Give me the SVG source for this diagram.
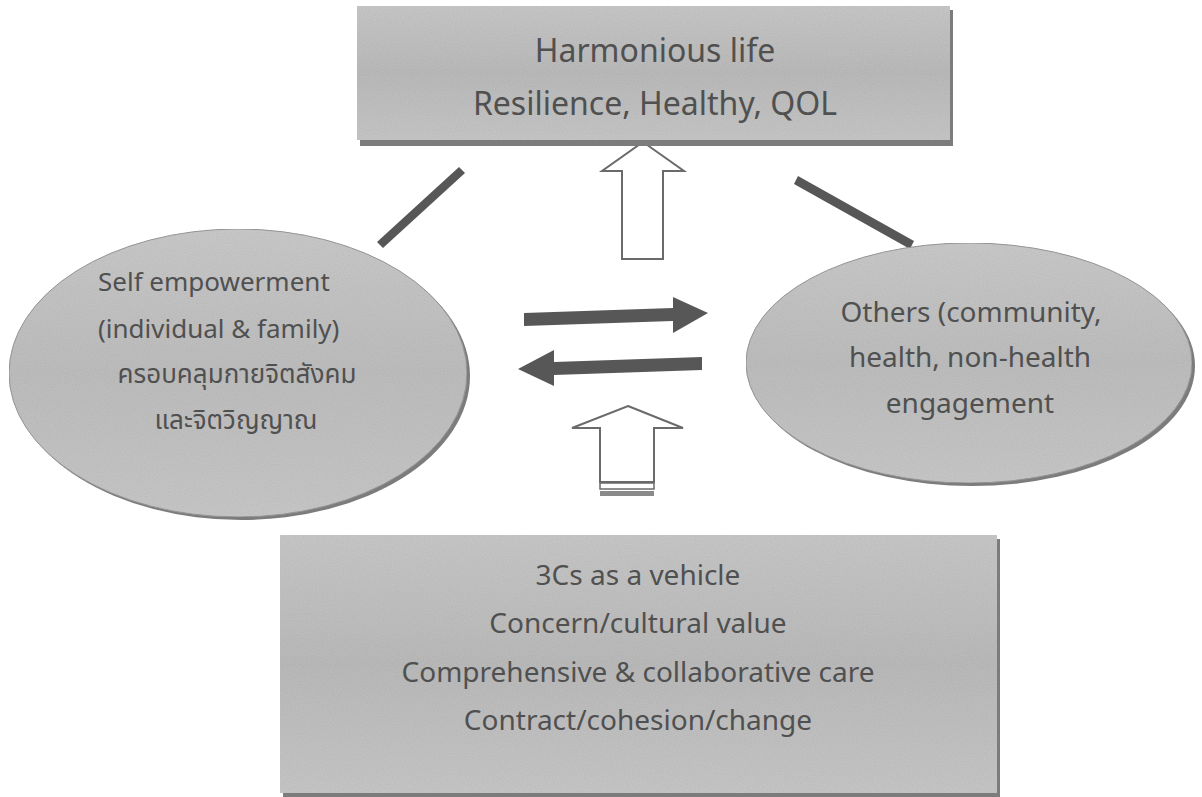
<svg xmlns="http://www.w3.org/2000/svg" width="1202" height="797" viewBox="0 0 1202 797">
<style>
.t{font-family:"Noto Sans","Noto Sans Thai",Loma,Garuda,"DejaVu Sans",sans-serif;fill:#505050}
.m{text-anchor:middle}
.ft{font-size:32px}
.fl{font-size:26px}
.fr{font-size:28px}
.fb{font-size:28px}
.box{fill:url(#g1);filter:url(#grain)}
.sh{fill:#7c7c7c}
.ell{fill:url(#g2);stroke:#9a9a9a;stroke-width:1;filter:url(#grain)}
.bar{fill:#575757}
.hollow{fill:#ffffff;stroke:#6a6a6a;stroke-width:2}
</style>
<defs>
<linearGradient id="g1" x1="0" y1="0" x2="0" y2="1">
<stop offset="0" stop-color="#cbcbcb"/><stop offset="0.5" stop-color="#bebebe"/><stop offset="1" stop-color="#cacaca"/>
</linearGradient>
<linearGradient id="g2" x1="0" y1="0" x2="0" y2="1">
<stop offset="0" stop-color="#cdcdcd"/><stop offset="0.5" stop-color="#c1c1c1"/><stop offset="1" stop-color="#cbcbcb"/>
</linearGradient>
<filter id="grain" x="0" y="0" width="100%" height="100%">
<feTurbulence type="fractalNoise" baseFrequency="0.9" numOctaves="1" seed="3" result="n"/>
<feColorMatrix in="n" type="matrix" values="0 0 0 0 0  0 0 0 0 0  0 0 0 0 0  0 0 0 0.18 0" result="d"/>
<feComposite in="d" in2="SourceGraphic" operator="in" result="dm"/>
<feMerge><feMergeNode in="SourceGraphic"/><feMergeNode in="dm"/></feMerge>
</filter>
</defs>
<rect width="1202" height="797" fill="#ffffff"/>

<g id="connectors">
<polygon class="bar" points="459,167 465,173 383,248 377,242"/>
<polygon class="bar" points="798,176 914,241 910,249 794,184"/>
<polygon class="hollow" points="643,142 684,171 663,171 663,259 622,259 622,171 602,171"/>
<polygon class="bar" points="524,313 673,308 673,297 708,313 673,333 673,321 524,326"/>
<polygon class="bar" points="702,357 554,362 554,350 518,369 554,386 554,375 702,370"/>
<polygon class="hollow" points="628,406 683,428 654,428 654,482 600,482 600,428 572,428"/>
<rect x="600" y="483" width="54" height="6" fill="#ffffff" stroke="#6a6a6a" stroke-width="1.5"/>
<rect x="600" y="491" width="54" height="5" fill="#8a8a8a"/>
</g>

<g id="top">
<rect class="sh" x="360" y="10" width="593" height="136"/>
<rect class="box" x="357" y="6" width="593" height="134"/>
<text class="t m ft" x="655" y="62">Harmonious life</text>
<text class="t m ft" x="655" y="115">Resilience, Healthy, QOL</text>
</g>

<g id="self">
<ellipse class="sh" cx="241" cy="376" rx="229" ry="144"/>
<ellipse class="ell" cx="238" cy="373" rx="229" ry="144"/>
<text class="t fl" x="98" y="291">Self empowerment</text>
<text class="t fl" x="98" y="338">(individual &amp; family)</text>
<text class="t m fl" x="237" y="383">ครอบคลุมกายจิตสังคม</text>
<text class="t m fl" x="236" y="429">และจิตวิญญาณ</text>
</g>

<g id="others">
<ellipse class="sh" cx="972" cy="366" rx="223" ry="120"/>
<ellipse class="ell" cx="969" cy="363" rx="223" ry="120"/>
<text class="t m fr" x="971" y="322">Others (community,</text>
<text class="t m fr" x="970" y="367">health, non-health</text>
<text class="t m fr" x="970" y="413">engagement</text>
</g>

<g id="bottom">
<rect class="sh" x="283" y="539" width="717" height="258"/>
<rect class="box" x="280" y="535" width="717" height="258"/>
<text class="t m fb" x="638" y="585">3Cs as a vehicle</text>
<text class="t m fb" x="638" y="633">Concern/cultural value</text>
<text class="t m fb" x="638" y="682">Comprehensive &amp; collaborative care</text>
<text class="t m fb" x="638" y="730">Contract/cohesion/change</text>
</g>
</svg>
